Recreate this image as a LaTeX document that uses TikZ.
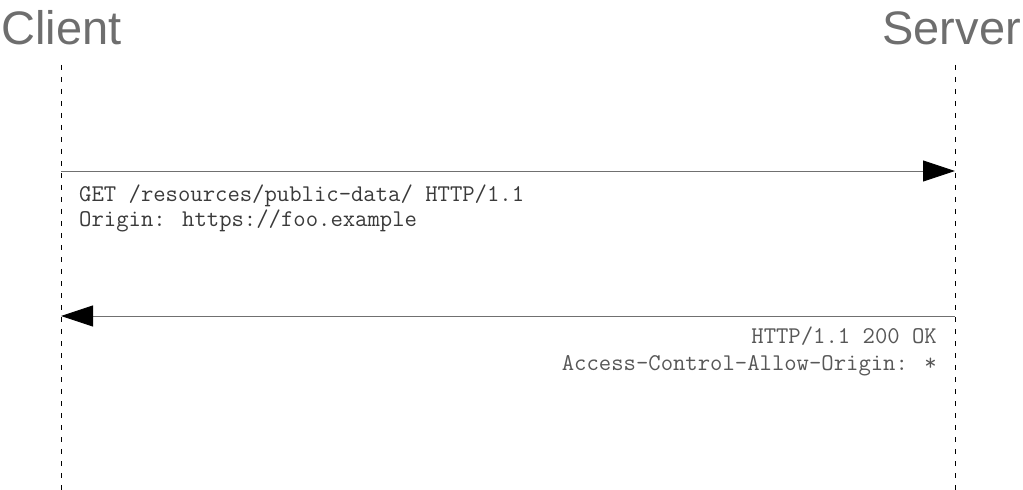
\documentclass[tikz,border=0pt]{standalone}
\usepackage{fontspec}
\setmainfont{Liberation Sans}
\usetikzlibrary{arrows.meta}
\definecolor{titlegray}{HTML}{6E6E6E}
\definecolor{linegray}{HTML}{707070}
\definecolor{textgray}{HTML}{3A3A3A}
\begin{document}
\begin{tikzpicture}[x=1bp,y=-1bp,
  title/.style={font=\fontsize{47bp}{50bp}\selectfont, text=titlegray, inner sep=0pt},
  lifeline/.style={draw=black, line width=0.8bp, dash pattern=on 5bp off 7bp},
  msg/.style={draw=linegray, line width=0.9bp, -{Triangle[length=32bp,width=21bp,color=black,fill=black]}},
  msgtext/.style={font=\ttfamily\fontsize{24bp}{25bp}\selectfont, text=textgray, inner sep=0pt}]
\useasboundingbox (0,0) rectangle (1023,490);
\node[title, anchor=base west] (client) at (1,45) {Client};
\node[title, anchor=base east] (server) at (1021,45) {Server};
\coordinate (ctop) at (61,65);
\coordinate (cbot) at (61,490);
\coordinate (stop) at (955,65);
\coordinate (sbot) at (955,490);
\draw[lifeline] (ctop) -- (cbot);
\draw[lifeline] (stop) -- (sbot);
\coordinate (c1) at (61,171);
\coordinate (s1) at (955,171);
\coordinate (c2) at (61,316);
\coordinate (s2) at (955,316);
\draw[msg] (c1) -- (s1);
\draw[msg] (s2) -- (c2);
\node[msgtext, anchor=base west] (req1) at (79,202) {GET /resources/public-data/ HTTP/1.1};
\node[msgtext, anchor=base west] (req2) at (79,227) {Origin: https://foo.example};
\node[msgtext, anchor=base east, text=textgray!85] (res1) at (937,344) {HTTP/1.1 200 OK};
\node[msgtext, anchor=base east, text=textgray!85] (res2) at (937,371) {Access-Control-Allow-Origin: *};
\end{tikzpicture}
\end{document}
